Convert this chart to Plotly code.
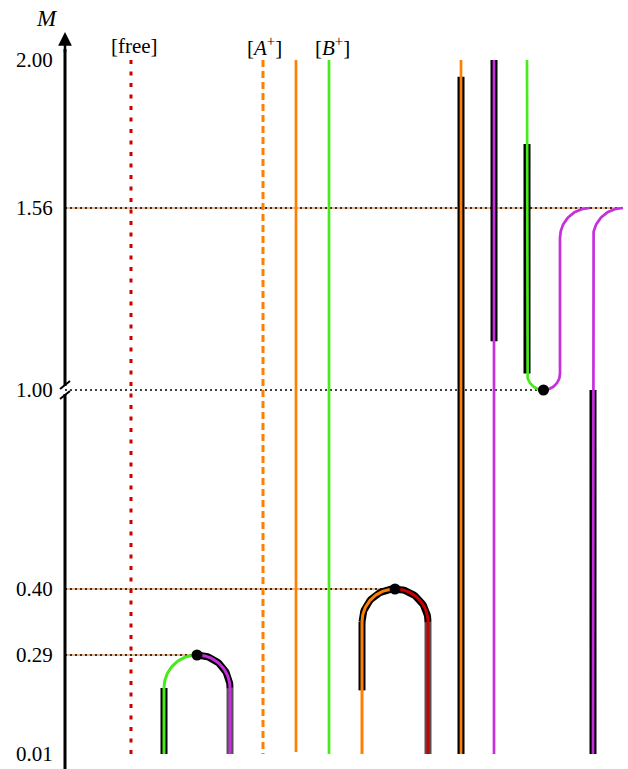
import numpy as np
import plotly.graph_objects as go

# ---- data -----------------------------------------------------------
# M levels marked on the (broken, non-linear) vertical axis and their
# drawing positions along that axis
M_LEVELS = [0.01, 0.29, 0.40, 1.00, 1.56, 2.00]
M_TICK_LABELS = ["0.01", "0.29", "0.40", "1.00", "1.56", "2.00"]
AXIS_POS = [15, 114, 180, 379, 561, 709]

# column headers
HEADERS = ["[free]", "[<i>A</i><sup>+</sup>]", "[<i>B</i><sup>+</sup>]"]
HEADER_COLS = [2.1, 6.05, 8.1]

# reference (horizontal) levels and how far right they reach (column)
REF_LEVELS = [1.56, 0.40, 0.29]
REF_ENDS = [16.91, 10, 4]
BREAK_LEVEL = 1.00
BREAK_END = 14.5

# free / single-state vertical lines: column, top M, bottom M
FREE_COL, A_DASH_COL, A_COL, B_COL = 2, 6, 7, 8
M_TOP, M_BOT = 2.00, 0.01

# thick black (stable-branch) bars: column, top M, bottom M
BAR_COLS = [12, 13, 14, 16]
BAR_TOPS = [1.95, 2.00, 1.75, 1.00]
BAR_BOTS = [0.01, 1.15, 1.03, 0.01]

# lower arch bars
ARCH1_BAR_BOT = 0.01
ARCH2_BAR_BOT = 0.19

GREEN = "#48ea1c"
MAGENTA = "#c52fdc"
ORANGE = "#ff8000"
RED = "#cc0000"
DARKRED = "#c80000"
PEACH = "#f2b58a"
GREY = "rgba(40,40,40,0.8)"

XU = 33.0  # pixels per column
FONT = "Liberation Serif"


def ypos(m):
    return float(np.interp(m, M_LEVELS, AXIS_POS))


fig = go.Figure()


def add_line(xs, ys, color, width, dash=None):
    fig.add_trace(go.Scatter(x=list(xs), y=list(ys), mode="lines",
                             line=dict(color=color, width=width, dash=dash),
                             hoverinfo="skip", showlegend=False))


def arc(cx, cy, r, t0, t1, n=40):
    t = np.linspace(t0, t1, n)
    return cx + r * np.cos(t) / XU, cy + r * np.sin(t)


# ---- horizontal reference lines -------------------------------------
for lev, xe in zip(REF_LEVELS, REF_ENDS):
    y = ypos(lev)
    add_line([0, xe], [y, y], PEACH, 2)
    add_line([0, xe], [y, y], "black", 1.6, "2px,3px")
yb = ypos(BREAK_LEVEL)
add_line([0, BREAK_END], [yb, yb], "black", 1.6, "2px,3px")

# ---- plain vertical lines ---------------------------------------------
add_line([FREE_COL, FREE_COL], [ypos(M_TOP), ypos(M_BOT)], RED, 3, "4px,7.5px")
add_line([A_DASH_COL, A_DASH_COL], [ypos(M_TOP), ypos(M_BOT)], ORANGE, 3, "7px,4px")
add_line([A_COL, A_COL], [ypos(M_TOP), ypos(M_BOT) + 2], ORANGE, 2.7)
add_line([B_COL, B_COL], [ypos(M_TOP), ypos(M_BOT)], GREEN, 2.7)

R = 33.0
# ---- arch 1 (top at 0.29) -------------------------------------------
c1x, c1y = 4, ypos(0.29) - R
add_line([3, 3], [c1y, ypos(ARCH1_BAR_BOT)], "black", 7)
add_line([5, 5], [c1y, ypos(M_BOT)], GREY, 7)
ax_, ay_ = arc(c1x, c1y, R, np.pi / 2, 0)
add_line(ax_, ay_, "black", 7)
ax_, ay_ = arc(c1x, c1y, R, np.pi, np.pi / 2)
add_line(ax_, ay_, GREEN, 3)
add_line([3, 3], [c1y, ypos(M_BOT)], GREEN, 3)
ax_, ay_ = arc(c1x, c1y, R, np.pi / 2, 0)
add_line(ax_, ay_, MAGENTA, 3)
add_line([5, 5], [c1y, ypos(M_BOT)], MAGENTA, 3)

# ---- arch 2 (top at 0.40) -------------------------------------------
c2x, c2y = 10, ypos(0.40) - R
add_line([9, 9], [c2y, ypos(ARCH2_BAR_BOT)], "black", 7)
add_line([11, 11], [c2y, ypos(M_BOT)], GREY, 7)
ax_, ay_ = arc(c2x, c2y, R, np.pi, 0, 60)
add_line(ax_, ay_, "black", 7)
ax_, ay_ = arc(c2x, c2y, R, np.pi, np.pi / 2)
add_line(ax_, ay_, ORANGE, 3)
add_line([9, 9], [c2y, ypos(M_BOT)], ORANGE, 3)
ax_, ay_ = arc(c2x, c2y, R, np.pi / 2, 0)
add_line(ax_, ay_, DARKRED, 3)
add_line([11, 11], [c2y, ypos(M_BOT)], DARKRED, 3)

# ---- right-hand columns -----------------------------------------------
r_small = 16.5
r_top = 30.0
y100 = ypos(1.00)
y156 = ypos(1.56)
for col, t, b in zip(BAR_COLS, BAR_TOPS, BAR_BOTS):
    yt = ypos(t)
    yb_ = ypos(b)
    if col == 14:
        yb_ = y100 + r_small
    add_line([col, col], [yt, yb_], "black", 7)

add_line([12, 12], [ypos(M_TOP), ypos(M_BOT)], ORANGE, 2.7)
add_line([13, 13], [ypos(M_TOP), ypos(M_BOT)], MAGENTA, 2.7)

# green branch descending into the fold at M = 1.00
gx, gy = arc(14.5, y100 + r_small, r_small, np.pi, 1.5 * np.pi)
add_line([14] + list(gx), [ypos(M_TOP)] + list(gy), GREEN, 2.7)
# magenta branch rising from the fold up to M = 1.56
mx, my = arc(14.5, y100 + r_small, r_small, 1.5 * np.pi, 2 * np.pi)
tx, ty = arc(15 + r_top / XU, y156 - r_top, r_top, np.pi, np.pi / 2)
add_line(list(mx) + list(tx), list(my) + list(ty), MAGENTA, 2.7)
# last column: rises from the bottom to the fold at M = 1.56
tx2, ty2 = arc(16 + r_top / XU, y156 - r_top, r_top, np.pi, np.pi / 2)
add_line([16] + list(tx2), [ypos(M_BOT)] + list(ty2), MAGENTA, 2.7)

# ---- fold / bifurcation points ---------------------------------------------
fig.add_trace(go.Scatter(x=[4, 10, 14.5], y=[ypos(0.29), ypos(0.40), y100],
                         mode="markers", marker=dict(color="black", size=11),
                         hoverinfo="skip", showlegend=False))

# ---- vertical axis with break --------------------------------------------
gap = 4
shapes = [
    dict(type="line", xref="x", yref="y", x0=0, x1=0, y0=0, y1=y100 - gap,
         line=dict(color="black", width=3)),
    dict(type="line", xref="x", yref="y", x0=0, x1=0, y0=y100 + gap, y1=720,
         line=dict(color="black", width=3)),
    dict(type="line", xref="x", yref="y", x0=-5 / XU, x1=5 / XU,
         y0=y100 - 9, y1=y100 - 1, line=dict(color="black", width=2)),
    dict(type="line", xref="x", yref="y", x0=-5 / XU, x1=5 / XU,
         y0=y100 + 1, y1=y100 + 9, line=dict(color="black", width=2)),
]

annotations = [
    dict(x=0, y=737, ax=0, ay=715, xref="x", yref="y", axref="x", ayref="y",
         showarrow=True, arrowhead=2, arrowsize=1.1, arrowwidth=2.5,
         arrowcolor="black", text=""),
    dict(x=-0.55, y=751, xref="x", yref="y", showarrow=False,
         text="<i>M</i>", font=dict(family=FONT, size=23, color="black")),
]
for lev, lab in zip(M_LEVELS, M_TICK_LABELS):
    annotations.append(dict(x=-0.3, y=ypos(lev), xref="x", yref="y",
                            xanchor="right", yanchor="middle", showarrow=False,
                            text=lab,
                            font=dict(family=FONT, size=21, color="black")))
for lab, col in zip(HEADERS, HEADER_COLS):
    annotations.append(dict(x=col, y=723, xref="x", yref="y", showarrow=False,
                            text=lab, xanchor="center", yanchor="middle",
                            font=dict(family=FONT, size=21, color="black")))

fig.update_layout(
    width=628, height=769,
    margin=dict(l=0, r=0, t=0, b=0),
    paper_bgcolor="white", plot_bgcolor="white",
    xaxis=dict(range=[-65 / XU, 563 / XU], visible=False, fixedrange=True),
    yaxis=dict(range=[0, 769], visible=False, fixedrange=True),
    shapes=shapes, annotations=annotations, showlegend=False,
)

fig.write_html("out.html", config={"displayModeBar": False},
               post_script="document.body.style.margin='0px';document.body.style.overflow='hidden';")
